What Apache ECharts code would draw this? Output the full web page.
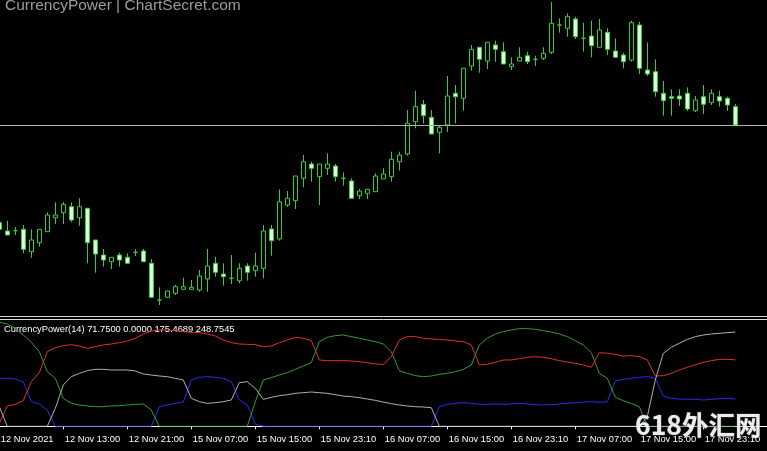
<!DOCTYPE html>
<html><head><meta charset="utf-8">
<script src="https://cdn.jsdelivr.net/npm/echarts@6/dist/echarts.min.js"></script>
<style>html,body{margin:0;padding:0;background:#000;}#c{width:767px;height:451px;}</style>
</head><body><div id="c"></div>
<script>
// ---- hourly sessions (day, first hour, bar count) ----
const sessions = [['12 Nov', 5, 19], ['15 Nov', 2, 22], ['16 Nov', 0, 24], ['17 Nov', 0, 24], ['18 Nov', 0, 8]];
const tickLabels = ['12 Nov 2021','12 Nov 13:00','12 Nov 21:00','15 Nov 07:00','15 Nov 15:00','15 Nov 23:10',
  '16 Nov 07:00','16 Nov 15:00','16 Nov 23:10','17 Nov 07:00','17 Nov 15:00','17 Nov 23:10'];

// ---- price candles (index points) ----
const opens  = [97.3,89,89.3,90.7,68.3,77.3,88.3,102.3,107.3,113.3,102.3,111.7,80,65,58.3,65,62.7,67.7,69,56.7,
  20,22.7,26.7,30.7,30.7,30,41,56.7,46,41.7,39.3,54,49.3,51.7,91,81,115,119.3,141.7,156,
  143.3,151.7,154,141.7,139,124.3,126.7,128.3,141,143.3,158.3,166,198.3,215.7,202.7,187.7,195,226.7,221.7,254,
  272.7,259,275,268.3,253.3,259,264.3,260.7,261.7,267.7,295,291.7,301,281.7,284,272.7,287.7,269,265,260,
  295,250,248.3,226.7,223.3,224,226.7,209.3,223.3,217.3,223.3,221.7,213.3];
const closes = [90.7,85,89.3,70.7,80,90.7,105,105,115.7,100,113.3,77.3,66,60,62.7,60,56.7,67.7,58.3,22.7,
  20,29,33.3,33.3,32.7,44,54,47.7,43.3,41.7,51.7,47.7,54,89,79.3,118.3,121.7,144,158.3,151.7,
  156,156,143.3,141.7,121.7,129,130.7,144,146,160.7,165,196.7,213.3,204.3,186,192.7,224,223.3,251.7,270.7,
  260.7,277.7,270.7,256,256,262.7,258.3,260.7,266.7,296.7,295,303.3,283.3,281.7,274.3,290,270.7,262.7,258.3,297.3,
  251.7,246,228.3,219.3,221.7,221,211,220,215.7,226.7,219,215,195];
const lows   = [90,85,85,66.7,62.3,73.3,88.3,96,96,97.7,94.3,56.7,47.3,53.3,51,53.3,56.7,64,58.3,22.7,
  15,22.7,25,30.7,30.7,28.3,28.3,43.3,34.3,36,36.7,39.3,43.3,41.7,64.3,79.3,113.3,111,132.7,138.3,
  115,145,138.3,134.3,121.7,121,121,128.3,141,138.3,149.3,164.3,191.7,196.7,186,166.7,188,196.7,209.3,249.3,
  247.3,251,258.3,256,250,259,256,254,260,266,287.3,283.3,281,268.3,262.7,272.7,265,262.7,251.7,258.3,
  246,244,223.3,204.3,204.3,214,209,208,206,215,213.3,209,194];
const highs  = [98,99.3,93,95,90.7,90.7,107.7,117.7,118,117.7,121.7,111.7,80,71,62.7,67.3,66.7,71,71,61,
  32.7,29,35,42.3,40,50,71,63.3,56.7,65,56.7,56.7,67.3,95,95,130.7,129,144,165,158.3,
  156,166.7,156,147.7,141.7,131,130.7,146.7,151.7,168.3,168.3,210,229.3,220,210,195,244,235,251.7,275,
  272.7,277.7,279.3,277.7,262.7,272.7,268.3,264.3,272.7,318,301.7,306.7,303.3,297.3,299.3,301,291.7,281.7,267.3,299.3,
  298.3,277.7,260.7,239,230.7,230.7,232.7,224,235,230.7,229.3,223.3,216];

// ---- CurrencyPower(14) buffers ----
const blueVals = [126.6,126.6,124.9,117.8,65.0,58.9,43.0,0,0,0, 0,0,0,0,0,0,0,0,0,0,
  51.8,56.2,60.6,64.1,122.2,129.3,131.0,129.3,126.6,117.8, 69.4,56.2,6,0,0,0,0,0,0,0,
  0,0,0,0,0,0,0,0,0,0, 0,0,0,0,0,51.8,58.0,60.6,62.4,60.6,
  58.0,58.0,58.9,58.0,58.9,60.6,58.9,57.1,56.2,57.1, 58.9,60.6,62.4,64.1,65.0,63.3,65.0,120.5,124.0,126.6,
  129.3,131.0,126.6,80.0,73.8,72.0,71.2,71.2,69.4,71.2, 72.9,73.8,71.75];
const greenVals = [275,270,258.7,241.1,221.7,197.1,144.2,126.6,73.8,60.6, 56.2,53.6,51.8,51.8,53.6,54.5,56.2,58.0,58.9,43.0,
  0,0,0,0,0,0,0,0,0,0, 0,0,65.0,122.2,128.4,135.4,141.6,150.4,159.2,168.0,
  223.5,234.9,239.3,241.1,236.7,232.3,227.9,223.5,217.3,197.1, 146.9,139.8,133.7,131.0,132.8,137.2,139.8,144.2,150.4,161.9,
  214.7,232.3,243.7,249.9,254.3,257.8,257.8,256.0,252.5,249.0, 243.7,236.7,226.1,214.7,194.4,139.8,126.6,76.5,67.7,60.6,
  51.8,0,0,0,0,0,0,0,0,0, 0,0,0];
const redVals = [7.8,53.6,58.0,67.7,117.8,141.6,197.1,207.6,212.9,215.5, 212.0,205.9,210.3,214.7,217.3,220.8,225.2,232.3,243.7,251.6,
  254.3,254.3,252.5,249.9,248.1,247.2,243.7,238.4,227.9,220.8, 217.3,216.4,215.5,210.3,212.0,220.8,227.9,234.9,232.3,226.1,
  175.1,173.3,173.3,173.3,172.4,170.7,168.0,164.5,163.6,183.9, 227.9,236.7,236.7,232.3,230.5,228.8,227.9,225.2,223.5,214.7,
  161.9,163.6,168.9,175.1,175.1,178.6,182.1,183.9,182.1,178.6, 173.3,169.8,166.3,161.9,155.7,194.4,192.7,190.0,185.6,186.5,
  183.9,175.1,132.8,133.7,139.8,148.6,155.7,162.7,168.9,173.3, 176.8,176.8,175.4689];
const grayVals = [51.8,0,0,0,0,0,0,47.4,109.0,131.0, 139.8,146.9,150.4,150.4,148.6,148.6,148.6,146.0,138.1,135.4,
  132.8,131.0,126.6,122.2,73.8,65.0,60.6,62.4,65.0,69.4, 115.2,117.8,100.2,71.2,76.5,80.9,83.5,87.0,88.8,90.5,
  88.8,87.0,83.5,80.0,78.2,75.6,72.0,68.5,64.1,59.7, 56.2,53.6,51.8,50.9,49.2,0,0,0,0,0,
  0,0,0,0,0,0,0,0,0,0, 0,0,0,0,0,0,0,0,0,0,
  0,25.4,122.2,192.7,208.5,219.1,229.6,236.7,241.1,243.7, 245.5,247.2,248.7545];

// ---- build ----
const categories = [];
sessions.forEach(([d, h0, n]) => { for (let k = 0; k < n; k++) { const h = h0 + k; categories.push(d + ' ' + String(h).padStart(2,'0') + (h === 23 ? ':10' : ':00')); } });
const candles = opens.map((o, i) => [o, closes[i], lows[i], highs[i]]);
const last = a => a[a.length - 1];
const subLabel = 'CurrencyPower(14) ' + [last(blueVals), last(greenVals), last(redVals), last(grayVals)].map(v => v.toFixed(4)).join(' ');

const chart = echarts.init(document.getElementById('c'), null, {renderer: 'canvas'});
const FONT = 'Liberation Sans, Arial, sans-serif';
const lineS = (name, data, color) => ({name, type: 'line', xAxisIndex: 1, yAxisIndex: 1, data, showSymbol: false, symbol: 'none',
  lineStyle: {color, width: 1}, itemStyle: {color}, silent: true});
chart.setOption({
  animation: false,
  backgroundColor: '#000000',
  grid: [
    {left: -4.7, width: 776, top: 0, height: 316, outerBoundsMode: 'none', containLabel: false},
    {left: -4.7, width: 776, top: 321, height: 105.3, outerBoundsMode: 'none', containLabel: false}
  ],
  xAxis: [
    {type: 'category', gridIndex: 0, data: categories, show: false, boundaryGap: true},
    {type: 'category', gridIndex: 1, data: categories, boundaryGap: true, offset: 4,
     axisLine: {show: true, lineStyle: {color: '#ffffff', width: 1}},
     axisTick: {show: true, alignWithLabel: true, length: 3, interval: i => i % 8 === 0, lineStyle: {color: '#ffffff'}},
     axisLabel: {show: true, interval: i => i % 8 === 0, hideOverlap: false, align: 'left', margin: 5, padding: [0,0,0,1.5],
       color: '#ffffff', fontFamily: FONT, fontSize: 9.3,
       formatter: (v, i) => (i % 8 === 0 && tickLabels[i / 8]) ? tickLabels[i / 8] : ''},
     splitLine: {show: false}}
  ],
  yAxis: [
    {type: 'value', gridIndex: 0, min: 4, max: 320, show: false, splitLine: {show: false}},
    {type: 'value', gridIndex: 1, min: 0, max: 278, show: false, splitLine: {show: false}}
  ],
  series: [
    {type: 'candlestick', xAxisIndex: 0, yAxisIndex: 0, data: candles, barWidth: 5, silent: true,
     itemStyle: {color: '#000000', color0: '#dcffdc', borderColor: '#38cc38', borderColor0: '#38cc38', borderWidth: 1},
     markLine: {silent: true, symbol: ['none','none'], label: {show: false},
       lineStyle: {color: '#b0b0b0', width: 1, type: 'solid'}, data: [{yAxis: last(closes)}]}},
    lineS('blue', blueVals, '#2a2af0'),
    lineS('green', greenVals, '#2f9f2f'),
    lineS('red', redVals, '#e03030'),
    lineS('gray', grayVals, '#b0b0b0')
  ],
  graphic: [
    {type: 'line', shape: {x1: 0, y1: 316.5, x2: 767, y2: 316.5}, style: {stroke: '#d8d8d8', lineWidth: 1}, silent: true},
    {type: 'line', shape: {x1: 0, y1: 319.5, x2: 767, y2: 319.5}, style: {stroke: '#d8d8d8', lineWidth: 1}, silent: true},
    {type: 'text', silent: true, style: {x: 5, y: 6.2, text: 'CurrencyPower | ChartSecret.com', fill: '#9c9c9c', verticalAlign: 'middle',
      font: '15.5px "Liberation Sans", Arial, sans-serif'}},
    {type: 'text', silent: true, style: {x: 4, y: 329.5, text: subLabel, fill: '#ffffff', verticalAlign: 'middle',
      font: '9.3px "Liberation Sans", Arial, sans-serif'}},
    {type: 'text', silent: true, z: 100, style: {x: 635, y: 412, text: '618外汇网', fill: 'rgba(255,255,255,0.92)',
      stroke: 'rgba(90,90,90,0.6)', lineWidth: 1, verticalAlign: 'top',
      font: 'bold 26.5px "Noto Sans CJK SC", sans-serif'}}
  ]
});
</script></body></html>
